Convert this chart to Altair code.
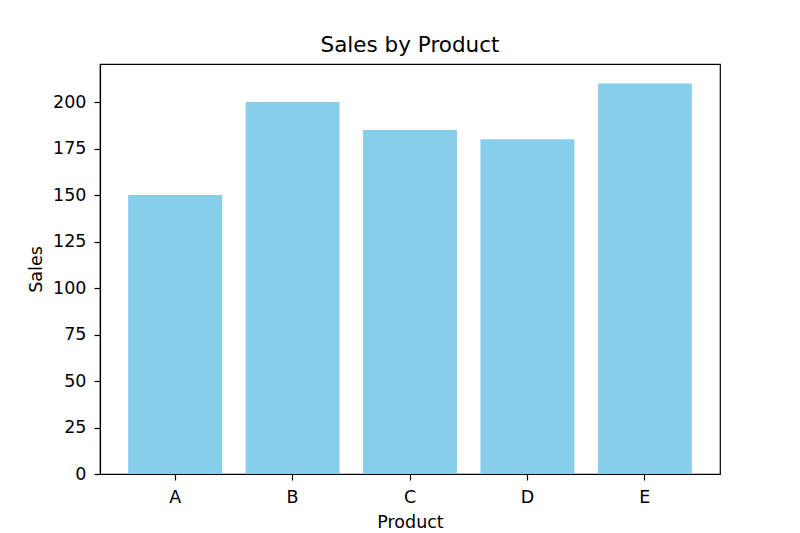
import pandas as pd
import altair as alt

# 제품별 판매 데이터
products = ['A', 'B', 'C', 'D', 'E']
sales = [150, 200, 185, 180, 210]

df = pd.DataFrame({'Product': products, 'Sales': sales})

FONT = 'DejaVu Sans'

chart = alt.Chart(df).mark_bar(color='#87CEEB').encode(
    x=alt.X('Product:N', sort=products,
            scale=alt.Scale(paddingInner=0.2, paddingOuter=0.24),
            axis=alt.Axis(title='Product', labelAngle=0,
                          titleX=310, titleY=53, titleBaseline='alphabetic',
                          titleAlign='center', labelPadding=8)),
    y=alt.Y('Sales:Q', scale=alt.Scale(domain=[0, 220.5], nice=False, zero=True),
            axis=alt.Axis(title='Sales', values=list(range(0, 201, 25)),
                          titleX=-59, titleY=205, titleAngle=270,
                          titleBaseline='alphabetic', titleAlign='center',
                          labelPadding=8, labelBaseline='middle'))
).properties(
    title=alt.TitleParams('Sales by Product', fontSize=21.5, font=FONT,
                          fontWeight='normal', color='black',
                          anchor='middle', baseline='alphabetic', offset=-9),
    width=620,
    height=410,
    autosize=alt.AutoSizeParams(type='none'),
    padding={'left': 92, 'top': 56, 'right': 72, 'bottom': 58}
).configure_view(
    stroke='black', strokeWidth=1.2
).configure_axis(
    labelFont=FONT, titleFont=FONT, labelFontSize=17.5, titleFontSize=17.5,
    labelColor='black', titleColor='black', titleFontWeight='normal',
    domainColor='black', domainWidth=1.2, tickColor='black', tickSize=6,
    tickWidth=1.2, grid=False
)

chart.save('out.html', embed_options={'renderer': 'svg', 'actions': False})
